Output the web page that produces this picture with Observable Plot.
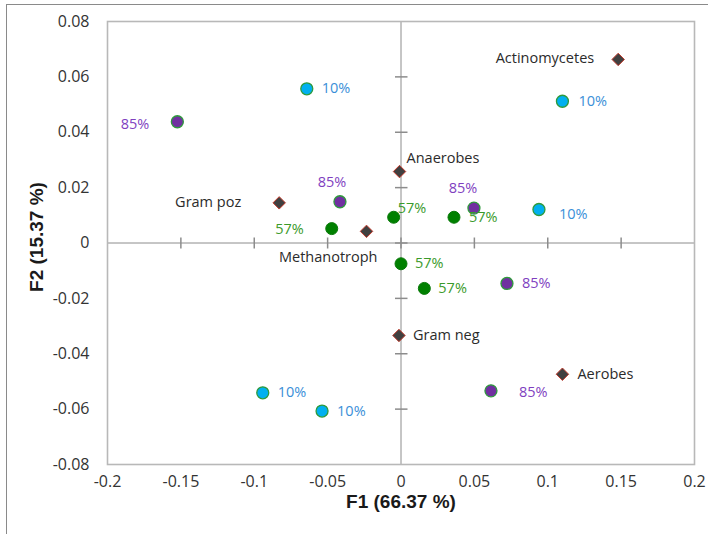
<!DOCTYPE html>
<html>
<head>
<meta charset="utf-8">
<script src="https://cdn.jsdelivr.net/npm/d3@7"></script>
<script src="https://cdn.jsdelivr.net/npm/@observablehq/plot@0.6"></script>
<style>
  html, body { margin: 0; padding: 0; background: #fff; }
  #wrap { position: relative; width: 708px; height: 534px; overflow: hidden; }
  #border { position: absolute; left: 6px; top: 4px; width: 720px; height: 540px;
            border-top: 1px solid #8a8a8a; border-left: 1px solid #8a8a8a; }
  #chart { position: absolute; left: 0; top: 0; }
</style>
</head>
<body>
<div id="wrap"><div id="border"></div><div id="chart"></div></div>
<script>
// Bacterial groups (loadings) on the first two factors
const taxa = ["Actinomycetes", "Anaerobes", "Methanotroph", "Gram poz", "Gram neg", "Aerobes"];
const taxaF1 = [0.148, -0.001, -0.0235, -0.083, -0.0014, 0.110];
const taxaF2 = [0.0663, 0.0258, 0.0042, 0.0145, -0.0334, -0.0474];

// Samples by moisture level
const f1At10 = [-0.0642, 0.110, 0.094, -0.0942, -0.0538];
const f2At10 = [0.0557, 0.0512, 0.0121, -0.0541, -0.0607];
const f1At85 = [-0.1524, -0.0416, 0.0497, 0.0722, 0.0613];
const f2At85 = [0.0438, 0.0149, 0.0126, -0.0146, -0.0534];
const f1At57 = [-0.0472, -0.0050, 0.0361, 0.0000, 0.0159];
const f2At57 = [0.0052, 0.0093, 0.0093, -0.0075, -0.0164];

const levelLabels = ["10%", "85%", "57%"];

// Axis ticks
const xTicks = [-0.2, -0.15, -0.1, -0.05, 0, 0.05, 0.1, 0.15, 0.2];
const yTicks = [0.08, 0.06, 0.04, 0.02, 0, -0.02, -0.04, -0.06, -0.08];
const xTitle = "F1 (66.37 %)";
const yTitle = "F2 (15.37 %)";

// Label placement around each point: [textAnchor, dx, dy]
const taxaPlace = [["end", -24, -1], ["start", 7, -13], ["end", 11, 26], ["end", -38, 0], ["start", 14, 0], ["start", 15, 0]];
const place10 = [["start", 15, 0], ["start", 16, 0], ["start", 20, 5], ["start", 15, 0], ["start", 15, 0]];
const place85 = [["end", -28, 3], ["middle", -8, -19], ["middle", -11, -20], ["start", 15, 0], ["start", 28, 2]];
const place57 = [["end", -28, 1], ["start", 4, -9], ["start", 15, 0], ["start", 14, 0], ["start", 14, 0]];

const toRows = (xs, ys, names) => xs.map((x, i) => ({x, y: ys[i], name: names ? names[i] : null}));
const taxaRows = toRows(taxaF1, taxaF2, taxa);
const rows10 = toRows(f1At10, f2At10);
const rows85 = toRows(f1At85, f2At85);
const rows57 = toRows(f1At57, f2At57);

const FONT = "'Open Sans', sans-serif";
const labelMarks = (rows, places, textFn, color) =>
  rows.map((r, i) => Plot.text([r], {
    x: "x", y: "y", text: textFn,
    textAnchor: places[i][0], dx: places[i][1], dy: places[i][2],
    fill: color, fontSize: 14.5, fontFamily: FONT
  }));

// Short cross ticks on the zero lines
const vTick = {draw(ctx) { ctx.moveTo(0, -5.5); ctx.lineTo(0, 5.5); }};
const hTick = {draw(ctx) { ctx.moveTo(-6, 0); ctx.lineTo(6.5, 0); }};

const ringColor = "#2f9a3c";

const chart = Plot.plot({
  width: 708,
  height: 534,
  marginLeft: 107,
  marginRight: 14,
  marginTop: 21,
  marginBottom: 70,
  x: {domain: [-0.2, 0.2], axis: null},
  y: {domain: [-0.08, 0.08], axis: null},
  style: {fontFamily: FONT, background: "transparent"},
  marks: [
    Plot.ruleX([0], {stroke: "#8c8c8c", strokeWidth: 1}),
    Plot.ruleY([0], {stroke: "#8c8c8c", strokeWidth: 1}),
    Plot.dot(xTicks.filter(d => Math.abs(d) < 0.2), {x: d => d, y: 0, symbol: vTick, stroke: "#8c8c8c", fill: "none", r: 5}),
    Plot.dot(yTicks.filter(d => Math.abs(d) < 0.08), {x: 0, y: d => d, symbol: hTick, stroke: "#8c8c8c", fill: "none", r: 5}),
    Plot.frame({stroke: "#b8b8b8", strokeWidth: 1.6}),

    // Tick labels
    Plot.text(xTicks, {x: d => d, frameAnchor: "bottom", dy: 22, text: d => String(d),
      fill: "#333", fontSize: 16, fontFamily: FONT}),
    Plot.text(yTicks, {y: d => d, frameAnchor: "left", textAnchor: "end", dx: -18, text: d => String(d),
      fill: "#333", fontSize: 16, fontFamily: FONT}),

    // Axis titles
    Plot.text([xTitle], {frameAnchor: "bottom", dy: 43, text: d => d, textAnchor: "middle",
      fill: "#1a1a1a", fontSize: 19, fontWeight: "bold", fontFamily: "'Liberation Sans', Arial, sans-serif"}),
    Plot.text([yTitle], {frameAnchor: "left", dx: -71, dy: -6, rotate: -90, text: d => d, textAnchor: "middle",
      fill: "#1a1a1a", fontSize: 19, fontWeight: "bold", fontFamily: "'Liberation Sans', Arial, sans-serif"}),

    // Samples
    Plot.dot(rows10, {x: "x", y: "y", r: 6, fill: "#00b0f0", stroke: ringColor, strokeWidth: 1.3}),
    Plot.dot(rows85, {x: "x", y: "y", r: 6, fill: "#7030a0", stroke: ringColor, strokeWidth: 1.3}),
    Plot.dot(rows57, {x: "x", y: "y", r: 6, fill: "#008000", stroke: "#0b7a0b", strokeWidth: 1}),

    // Bacterial groups
    Plot.dot(taxaRows, {x: "x", y: "y", symbol: "diamond2", r: 5.6, fill: "#404040", stroke: "#c0392b", strokeWidth: 1}),

    ...labelMarks(taxaRows, taxaPlace, d => d.name, "#2b2b2b"),
    ...labelMarks(rows10, place10, () => levelLabels[0], "#3a8fd8"),
    ...labelMarks(rows85, place85, () => levelLabels[1], "#7f3fbf"),
    ...labelMarks(rows57, place57, () => levelLabels[2], "#3a9a2a")
  ]
});

document.getElementById("chart").appendChild(chart);
</script>
</body>
</html>
